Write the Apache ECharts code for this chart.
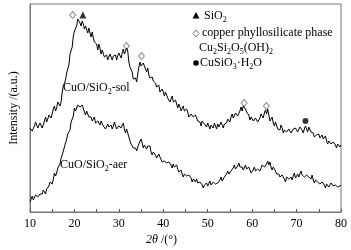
<!DOCTYPE html>
<html>
<head>
<meta charset="utf-8">
<script src="https://cdn.jsdelivr.net/npm/echarts@6/dist/echarts.min.js"></script>
<style>
  html, body { margin: 0; padding: 0; background: #fff; }
  #chart { width: 351px; height: 250px; }
</style>
</head>
<body>
<div id="chart"></div>
<script>
// 2theta sampling: 10..80 deg, every 0.25 deg
const thetaStart = 10
const thetaStep = 0.25

// CuO/SiO2-sol (upper trace), intensity in arbitrary units
const solValues = [
  84, 85, 81, 80, 86, 90, 89, 84, 85, 89, 88, 84, 86, 91, 95, 90, 93, 97, 98, 94,
  96, 103, 106, 101, 104, 110, 111, 106, 110, 120, 126, 127, 132, 139, 140, 147, 158, 157, 165, 176,
  181, 180, 186, 193, 194, 189, 186, 191, 188, 183, 186, 184, 179, 184, 179, 175, 180, 174, 170, 172,
  168, 162, 168, 164, 158, 162, 161, 155, 157, 157, 152, 153, 158, 156, 152, 156, 154, 157, 152, 156,
  159, 160, 154, 159, 163, 158, 161, 164, 161, 150, 145, 144, 140, 133, 135, 134, 130, 138, 145, 150,
  146, 144, 149, 147, 143, 140, 144, 137, 134, 132, 135, 131, 130, 129, 125, 124, 127, 120, 118, 123,
  120, 116, 120, 117, 114, 116, 110, 110, 116, 110, 108, 112, 108, 104, 108, 105, 101, 103, 106, 101,
  100, 103, 100, 95, 95, 98, 100, 95, 93, 97, 95, 91, 92, 90, 86, 91, 92, 88, 87, 85,
  89, 87, 83, 87, 86, 84, 89, 86, 83, 88, 85, 85, 90, 88, 84, 88, 90, 89, 93, 94,
  90, 95, 98, 94, 95, 99, 99, 96, 98, 101, 105, 101, 106, 104, 103, 100, 98, 97, 92, 95,
  96, 91, 90, 94, 93, 90, 91, 94, 98, 97, 94, 99, 102, 98, 103, 97, 91, 90, 95, 89,
  86, 90, 88, 83, 84, 82, 87, 84, 79, 82, 83, 80, 79, 83, 85, 79, 78, 83, 81, 84,
  84, 80, 81, 85, 86, 82, 79, 83, 86, 83, 80, 85, 85, 80, 78, 79, 75, 73, 77, 76,
  78, 74, 72, 77, 73, 72, 76, 71, 68, 71, 72, 68, 69, 70, 72, 67, 64, 68, 68, 65,
  67
]

// CuO/SiO2-aer (lower trace)
const aerValues = [
  10, 13, 16, 12, 13, 17, 19, 15, 14, 18, 20, 18, 22, 21, 18, 23, 24, 26, 30, 31,
  28, 33, 39, 36, 39, 44, 43, 48, 54, 57, 61, 65, 63, 73, 78, 79, 82, 90, 92, 96,
  104, 101, 103, 107, 109, 105, 104, 107, 106, 100, 97, 101, 100, 95, 96, 95, 91, 92, 95, 89,
  87, 91, 90, 87, 91, 89, 86, 86, 83, 84, 88, 85, 86, 87, 83, 86, 90, 86, 83, 85,
  86, 87, 84, 85, 89, 83, 79, 83, 82, 75, 71, 68, 70, 64, 62, 64, 61, 65, 68, 69,
  73, 69, 64, 67, 66, 63, 66, 64, 66, 60, 57, 60, 58, 57, 54, 55, 58, 55, 54, 50,
  48, 51, 53, 49, 49, 50, 52, 47, 44, 48, 45, 44, 47, 43, 40, 41, 42, 38, 35, 38,
  40, 36, 35, 37, 39, 34, 30, 33, 32, 30, 33, 29, 28, 30, 32, 27, 24, 27, 28, 29,
  26, 28, 31, 27, 26, 30, 32, 28, 27, 29, 31, 32, 35, 31, 30, 35, 37, 38, 41, 38,
  39, 41, 39, 44, 47, 43, 42, 46, 49, 45, 46, 45, 42, 44, 47, 43, 42, 45, 43, 39,
  38, 42, 45, 41, 39, 43, 44, 41, 43, 47, 49, 45, 44, 48, 51, 47, 50, 45, 42, 45,
  46, 41, 38, 39, 38, 35, 34, 37, 38, 33, 30, 35, 36, 33, 34, 35, 32, 36, 39, 34,
  35, 38, 35, 37, 41, 37, 39, 35, 34, 37, 38, 35, 34, 33, 37, 32, 29, 32, 31, 30,
  32, 28, 27, 30, 32, 27, 24, 28, 29, 25, 26, 29, 30, 26, 24, 27, 28, 25, 23, 26,
  27
]

// peak markers [2theta, height]
const sio2Peaks = [[21.9, 197]]
const phylloPeaks = [[19.6, 197], [31.7, 166], [35.1, 156], [58.2, 109], [63.2, 106]]
const cusio3Peaks = [[72.0, 91]]

const xTicks = [10, 20, 30, 40, 50, 60, 70, 80]

function toPairs(values) {
  return values.map(function (v, i) {
    return [thetaStart + i * thetaStep, v]
  })
}

const serif = 'Liberation Serif, Times New Roman, serif'
const richText = {
  a: { fontFamily: serif, fontSize: 12, lineHeight: 16, color: '#000' },
  s: { fontFamily: serif, fontSize: 8, lineHeight: 8, verticalAlign: 'bottom', color: '#000' },
  i: { fontFamily: serif, fontSize: 12, lineHeight: 16, fontStyle: 'italic', color: '#000' }
}

function label(x, y, text) {
  return {
    type: 'text',
    x: x,
    y: y,
    style: { text: text, rich: richText, verticalAlign: 'middle', align: 'left' }
  }
}

const chart = echarts.init(document.getElementById('chart'))

const option = {
  animation: false,
  backgroundColor: '#fff',
  grid: {
    left: 23,
    right: 10,
    top: 4,
    bottom: 38,
    show: true,
    borderColor: '#777',
    borderWidth: 1
  },
  xAxis: {
    type: 'value',
    min: 10,
    max: 80,
    interval: 5,
    axisLine: { lineStyle: { color: '#777', width: 1 } },
    axisTick: { inside: true, length: 3, lineStyle: { color: '#555' } },
    splitLine: { show: false },
    axisLabel: {
      margin: 6,
      fontFamily: serif,
      fontSize: 12,
      color: '#000',
      formatter: function (v) {
        return xTicks.indexOf(v) >= 0 ? String(v) : ''
      }
    }
  },
  yAxis: {
    type: 'value',
    min: 0,
    max: 208,
    name: 'Intensity /(a.u.)',
    nameLocation: 'middle',
    nameGap: 10,
    nameTextStyle: { fontFamily: serif, fontSize: 12, color: '#000' },
    axisLine: { show: true, lineStyle: { color: '#777', width: 1 } },
    axisTick: { show: false },
    axisLabel: { show: false },
    splitLine: { show: false }
  },
  series: [
    {
      name: 'CuO/SiO2-sol',
      type: 'line',
      data: toPairs(solValues),
      showSymbol: false,
      lineStyle: { color: '#000', width: 1 }
    },
    {
      name: 'CuO/SiO2-aer',
      type: 'line',
      data: toPairs(aerValues),
      showSymbol: false,
      lineStyle: { color: '#000', width: 1 }
    },
    {
      type: 'scatter',
      data: sio2Peaks,
      symbol: 'triangle',
      symbolSize: 7,
      itemStyle: { color: '#000' }
    },
    {
      type: 'scatter',
      data: phylloPeaks,
      symbol: 'diamond',
      symbolSize: [6, 7],
      itemStyle: { color: '#fff', borderColor: '#777', borderWidth: 1 }
    },
    {
      type: 'scatter',
      data: cusio3Peaks,
      symbol: 'circle',
      symbolSize: 6,
      itemStyle: { color: '#000' }
    }
  ],
  graphic: [
    // legend glyphs
    { type: 'polygon', shape: { points: [[196, 12], [192.5, 18.5], [199.5, 18.5]] }, style: { fill: '#000' } },
    { type: 'polygon', shape: { points: [[196, 30], [199, 33.5], [196, 37], [193, 33.5]] }, style: { fill: '#fff', stroke: '#777', lineWidth: 1 } },
    { type: 'circle', shape: { cx: 196, cy: 63, r: 2.8 }, style: { fill: '#000' } },
    label(204, 16, '{a|SiO}{s|2}'),
    label(202, 33, '{a|copper phyllosilicate phase}'),
    label(199, 48, '{a|Cu}{s|2}{a|Si}{s|2}{a|O}{s|5}{a|(OH)}{s|2}'),
    label(200, 63, '{a|CuSiO}{s|3}{a|·H}{s|2}{a|O}'),
    // trace labels
    label(63, 88, '{a|CuO/SiO}{s|2}{a|-sol}'),
    label(60, 165, '{a|CuO/SiO}{s|2}{a|-aer}'),
    // x axis title
    label(146, 240, '{i|2θ}{a| /(°)}')
  ]
}

chart.setOption(option)
</script>
</body>
</html>
